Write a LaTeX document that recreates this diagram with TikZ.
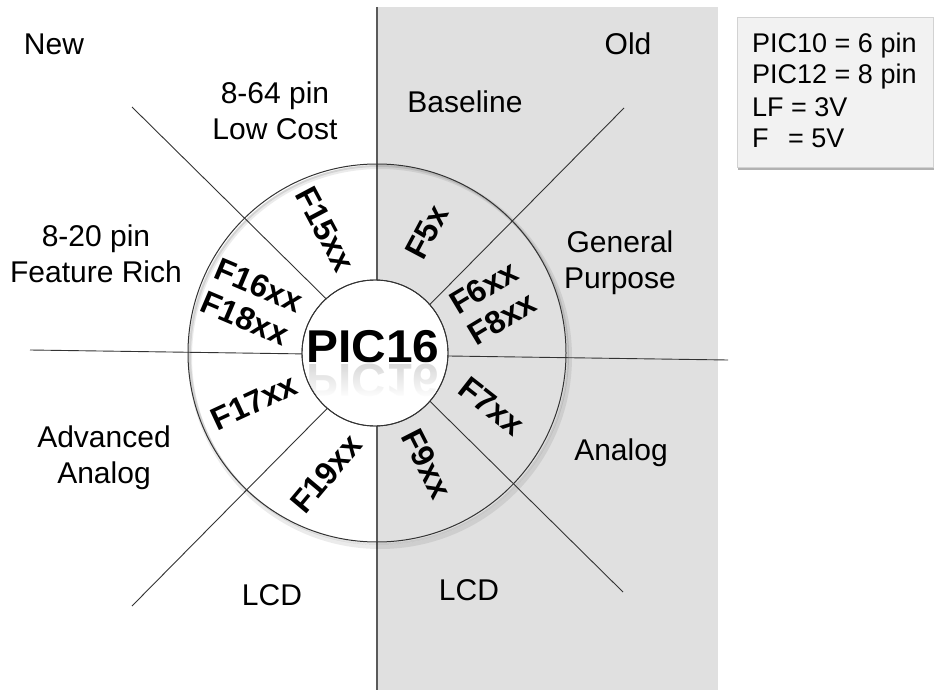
\documentclass[tikz,border=0pt]{standalone}
\usepackage{fontspec}
\setmainfont{Liberation Sans}
\usetikzlibrary{fadings,shadows}

\definecolor{panelgray}{HTML}{E0E0E0}
\definecolor{keyfill}{HTML}{F2F2F2}
\definecolor{keyedge}{HTML}{D2D2D2}
\definecolor{divider}{HTML}{5A5A5A}
\definecolor{spoke}{HTML}{333333}

% white veil that thickens downwards, used for the mirrored title
\tikzfading[name=reflfade, top color=transparent!45, bottom color=transparent!0]

\begin{document}
\begin{tikzpicture}[x=1pt, y=-1pt,
  tag/.style={font=\fontsize{30}{36}\selectfont, align=center, inner sep=0pt, anchor=base},
  sector/.style={font=\bfseries\fontsize{32}{36}\selectfont, align=center, inner sep=0pt},
  keytext/.style={font=\fontsize{27}{32}\selectfont, align=left, inner sep=0pt, anchor=base west},
  spokeline/.style={draw=spoke, line width=0.9pt},
  title/.style={font=\bfseries\fontsize{46}{46}\selectfont, inner sep=0pt, anchor=base, xscale=1.04},
]
\useasboundingbox (0,0) rectangle (937,690);
\fill[white] (0,0) rectangle (937,690);

% shaded "old" half
\fill[panelgray] (377,7) rectangle (718,690);

% legend box
\node[draw=keyedge, fill=keyfill, line width=0.6pt, minimum width=196pt, minimum height=150pt,
      anchor=north west, inner sep=0pt,
      drop shadow={shadow xshift=1pt, shadow yshift=-3pt, opacity=0.3, fill=black}] (key) at (737,17) {};
\node[keytext] (keylines) at (752,148) {PIC10 = 6 pin\\PIC12 = 8 pin\\LF = 3V\\F\hspace{0.72em}= 5V};

% spokes and divider
\coordinate (hw) at (30,350);
\coordinate (he) at (728,360);
\coordinate (nw) at (132,107);
\coordinate (se) at (623,592);
\coordinate (ne) at (624,108);
\coordinate (sw) at (132,606);
\coordinate (vt) at (377,7);
\coordinate (vb) at (377,690);
\draw[spokeline] (hw) -- (he);
\draw[spokeline] (nw) -- (se);
\draw[spokeline] (ne) -- (sw);
\draw[divider, line width=1.6pt] (vt) -- (vb);

% outer ring with a soft shadow towards the lower right
\draw[black, opacity=0.08, line width=4pt] (380,357) circle (190pt);
\draw[black, opacity=0.10, line width=2pt] (379,355) circle (189pt);
\node[circle, draw=spoke, line width=1pt, minimum size=378pt, inner sep=0pt] (ring) at (377,353) {};

% core disc
\node[circle, draw=spoke, fill=white, line width=0.9pt, minimum size=146pt, inner sep=0pt] (core) at (375,353) {};
\node[title] (pic) at (373,362) {PIC16};
\begin{scope}
  \clip (core.center) circle (72pt);
  \node[title, yscale=-1, text=black!35] (picmirror) at (373,364) {PIC16};
  \fill[white, path fading=reflfade] (300,362) rectangle (450,398);
\end{scope}
\draw[spoke, line width=0.9pt] (core.center) circle (73pt);

% family sectors
\node[sector, rotate=-62] (f15) at (325,229) {F15xx};
\node[sector, rotate=62]  (f5)  at (427,232) {F5x};
\node[sector, rotate=-23] (f16) at (252,302) {F16xx\\F18xx};
\node[sector, rotate=31]  (f6)  at (493,303) {F6xx\\F8xx};
\node[sector, rotate=25]  (f17) at (254,402) {F17xx};
\node[sector, rotate=50]  (f19) at (326,474) {F19xx};
\node[sector, rotate=-38] (f7)  at (492,406) {F7xx};
\node[sector, rotate=-63] (f9)  at (427,464) {F9xx};

% outer captions
\node[tag] (new)      at (54,55)   {New};
\node[tag] (old)      at (628,55)  {Old};
\node[tag] (lowcost)  at (275,140) {8-64 pin\\Low Cost};
\node[tag] (baseline) at (465,113) {Baseline};
\node[tag] (rich)     at (96,282)  {8-20 pin\\Feature Rich};
\node[tag] (general)  at (620,288) {General\\Purpose};
\node[tag] (analog)   at (621,460) {Analog};
\node[tag] (advanced) at (104,483) {Advanced\\Analog};
\node[tag] (lcdl)     at (272,605) {LCD};
\node[tag] (lcdr)     at (469,600) {LCD};
\end{tikzpicture}
\end{document}
